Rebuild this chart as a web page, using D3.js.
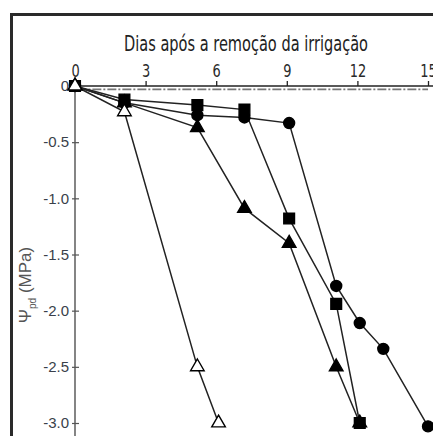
<!DOCTYPE html>
<html>
<head>
<meta charset="utf-8">
<script src="https://cdn.jsdelivr.net/npm/d3@7"></script>
<style>
  body { margin: 0; background: #fff; }
  svg { display: block; }
</style>
</head>
<body>
<svg id="chart" width="433" height="436"></svg>
<script>
// --- données ---
const xTicks = [0, 3, 6, 9, 12, 15];
const yTicks = [0, -0.5, -1.0, -1.5, -2.0, -2.5, -3.0];

// triangles ouverts
const trianglesOuverts = [[0, 0], [2.1, -0.23], [5.2, -2.5], [6.1, -3.0]];
// triangles pleins
const trianglesPleins = [[0, 0], [2.1, -0.15], [5.2, -0.37], [7.2, -1.09], [9.1, -1.4], [11.1, -2.5], [12.1, -3.0]];
// carrés
const carres = [[0, 0], [2.1, -0.12], [5.2, -0.17], [7.2, -0.21], [9.1, -1.18], [11.1, -1.94], [12.1, -3.0]];
// cercles
const cercles = [[0, 0], [2.1, -0.15], [5.2, -0.26], [7.2, -0.28], [9.1, -0.33], [11.1, -1.78], [12.1, -2.11], [13.1, -2.34], [15, -3.03]];
// ligne de contrôle (tiret-point)
const controle = [[0.1, -0.03], [15, -0.03]];

const narrow = "'DejaVu Sans Condensed', 'Liberation Sans Narrow', sans-serif";

const svg = d3.select("#chart");

// cadre
svg.append("rect")
  .attr("x", 11.5).attr("y", 14.5)
  .attr("width", 440).attr("height", 440)
  .attr("fill", "none").attr("stroke", "#2a2a2a").attr("stroke-width", 3);

const x = d3.scaleLinear().domain([0, 15]).range([75, 428]);
const y = d3.scaleLinear().domain([0, -3]).range([86, 423]);

// axe x en haut
const xAxis = svg.append("g")
  .attr("transform", "translate(0,86)")
  .call(d3.axisTop(x).tickValues(xTicks).tickSize(5).tickSizeOuter(0));
xAxis.select(".domain").attr("stroke", "#222").attr("stroke-width", 1.4)
  .attr("d", `M${x(0)},0H433`);
xAxis.selectAll(".tick line").attr("stroke", "#222").attr("stroke-width", 1.3);
xAxis.selectAll(".tick text")
  .attr("y", -9)
  .attr("transform", "scale(0.8,1)")
  .style("font-family", narrow)
  .style("font-size", "18px")
  .attr("fill", "#2a2a2a");

// axe y
const yAxis = svg.append("g")
  .attr("transform", "translate(75,0)")
  .call(d3.axisLeft(y).tickValues(yTicks).tickSize(4).tickSizeOuter(0)
    .tickFormat(d => d === 0 ? "0" : d.toFixed(1)));
yAxis.select(".domain").attr("stroke", "#666").attr("stroke-width", 1.6)
  .attr("d", "M0,86V436");
yAxis.selectAll(".tick line").attr("stroke", "#555").attr("stroke-width", 1.2).attr("x2", 4).attr("x1", -3);
yAxis.selectAll(".tick text")
  .attr("x", -6)
  .style("font-family", "'Liberation Sans', Arial, sans-serif")
  .style("font-size", "15px")
  .attr("fill", "#3a3f4a");

// titre
svg.append("text")
  .attr("x", 124).attr("y", 51)
  .attr("textLength", 244)
  .attr("lengthAdjust", "spacingAndGlyphs")
  .style("font-family", narrow)
  .style("font-size", "21px")
  .attr("fill", "#222")
  .text("Dias após a remoção da irrigação");

// titre axe y
const yLab = svg.append("text")
  .attr("transform", "translate(31,285) rotate(-90)")
  .attr("text-anchor", "middle")
  .style("font-family", "'Liberation Sans', Arial, sans-serif")
  .style("font-size", "17px")
  .attr("fill", "#555");
yLab.append("tspan").text("Ψ");
yLab.append("tspan").attr("dy", 5).style("font-size", "10px").text("pd");
yLab.append("tspan").attr("dy", -5).text(" (MPa)");

const line = d3.line().x(d => x(d[0])).y(d => y(d[1]));

// ligne tiret-point
svg.append("path")
  .datum(controle)
  .attr("d", line)
  .attr("fill", "none")
  .attr("stroke", "#777")
  .attr("stroke-width", 1.6)
  .attr("stroke-dasharray", "9,2,2,2");

const series = [
  { data: cercles, symbol: d3.symbolCircle, size: 95, fill: "#000" },
  { data: carres, symbol: d3.symbolSquare, size: 115, fill: "#000" },
  { data: trianglesPleins, symbol: d3.symbolTriangle, size: 80, fill: "#000" },
  { data: trianglesOuverts, symbol: d3.symbolTriangle, size: 80, fill: "#fff" }
];

series.forEach(s => {
  svg.append("path")
    .datum(s.data)
    .attr("d", line)
    .attr("fill", "none")
    .attr("stroke", "#222")
    .attr("stroke-width", 1.5);
});

series.forEach(s => {
  svg.append("g").selectAll("path")
    .data(s.data)
    .enter().append("path")
    .attr("transform", d => `translate(${x(d[0])},${y(d[1])})`)
    .attr("d", d3.symbol().type(s.symbol).size(s.size))
    .attr("fill", s.fill)
    .attr("stroke", "#000")
    .attr("stroke-width", 1.4);
});
</script>
</body>
</html>
